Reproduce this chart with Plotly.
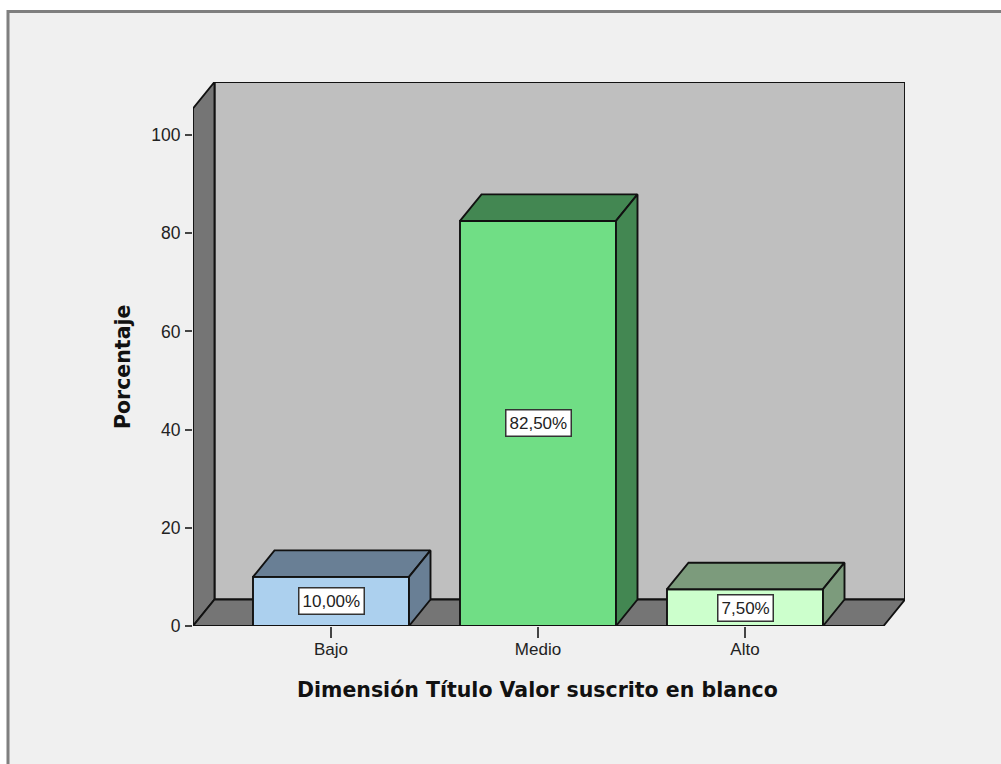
import plotly.graph_objects as go

categories = ["Bajo", "Medio", "Alto"]
porcentajes = [10.0, 82.5, 7.5]
etiquetas = ["10,00%", "82,50%", "7,50%"]
y_ticks = [0, 20, 40, 60, 80, 100]

front_colors = ["#ACD0EE", "#70DE85", "#CCFFCC"]
dark_colors = ["#697F95", "#438752", "#7C9B7C"]

W, H = 1001, 764
L, R, T, B = 193, 905, 82, 626      # plot rectangle in pixels
UX = 207.0                          # pixels per category
UY = 4.91                           # pixels per percent
X0 = -(331 - L) / UX
X1 = X0 + (R - L) / UX
Y1 = (B - T) / UY
DX = 21.5 / UX                      # depth of the 3D effect, axis units
DY = 26.5 / UY
BAR_W = 156 / UX
LINE = dict(color="#111111", width=1.9)
FONT = "Liberation Sans, Arial, sans-serif"

fig = go.Figure()


def poly(xs, ys, fill, axes=("x", "y")):
    fig.add_trace(go.Scatter(
        x=xs + xs[:1], y=ys + ys[:1], mode="lines", fill="toself",
        fillcolor=fill, line=LINE, cliponaxis=False, hoverinfo="skip",
        showlegend=False, xaxis=axes[0], yaxis=axes[1]))


# Back wall, left wall and floor of the box (base axes)
poly([X0 + DX, X1, X1, X0 + DX], [DY, DY, Y1, Y1], "#BFBFBF")
poly([X0, X0 + DX, X0 + DX, X0], [0, DY, Y1, Y1 - DY], "#757575")
poly([X0, X1 - DX, X1, X0 + DX], [0, 0, DY, DY], "#757575")

# Bars on an overlay subplot that shares the same scale
pos = list(range(len(categories)))
fig.add_trace(go.Bar(
    x=pos, y=porcentajes, width=BAR_W, xaxis="x2", yaxis="y2",
    marker=dict(color=front_colors, line=LINE), cliponaxis=False,
    showlegend=False, hovertemplate="%{y}<extra></extra>"))

for p, v, dark in zip(pos, porcentajes, dark_colors):
    a, b = p - BAR_W / 2, p + BAR_W / 2
    poly([a, b, b + DX, a + DX], [v, v, v + DY, v + DY], dark, ("x2", "y2"))
    poly([b, b + DX, b + DX, b], [0, DY, v + DY, v], dark, ("x2", "y2"))

annotations = [
    dict(x=p, y=v / 2, xref="x2", yref="y2", text=t, showarrow=False,
         xanchor="center", yanchor="middle",
         bgcolor="#FFFFFF", bordercolor="#333333", borderwidth=1.5, borderpad=3,
         font=dict(family=FONT, size=17, color="#222222"))
    for p, v, t in zip(pos, porcentajes, etiquetas)
]
annotations += [
    dict(x=537.5 / W, y=1 - 690 / H, xref="paper", yref="paper",
         xanchor="center", yanchor="middle",
         text="<b>Dimensión Título Valor suscrito en blanco</b>", showarrow=False,
         font=dict(family="DejaVu Sans, sans-serif", size=20.5, color="#111111")),
    dict(x=123 / W, y=1 - 367 / H, xref="paper", yref="paper", textangle=-90,
         xanchor="center", yanchor="middle",
         text="<b>Porcentaje</b>", showarrow=False,
         font=dict(family="DejaVu Sans, sans-serif", size=20.5, color="#111111")),
]

# Outer frame; its right and bottom edges run off the page
frame = dict(type="rect", xref="paper", yref="paper", layer="below",
             x0=8 / W, x1=(W + 10) / W, y0=-10 / H, y1=1 - 11.5 / H,
             fillcolor="#F0F0F0", line=dict(color="#7F7F7F", width=3))

axis_common = dict(showgrid=False, zeroline=False, showline=False)
fig.update_layout(
    width=W, height=H, autosize=False,
    margin=dict(l=0, r=0, t=0, b=0, pad=0, autoexpand=False),
    paper_bgcolor="#FFFFFF", plot_bgcolor="rgba(0,0,0,0)",
    shapes=[frame], annotations=annotations, showlegend=False,
    xaxis=dict(range=[X0, X1], domain=[L / W, R / W], tickmode="array", tickvals=pos,
               ticktext=categories, ticks="outside", ticklen=11, tickwidth=1.5,
               tickcolor="#444444", ticklabelstandoff=-3,
               tickfont=dict(family=FONT, size=17, color="#222222"),
               **axis_common),
    yaxis=dict(range=[0, Y1], domain=[1 - B / H, 1 - T / H], tickmode="array",
               tickvals=y_ticks, ticks="outside", ticklen=7, tickwidth=1.5,
               tickcolor="#444444", ticklabelstandoff=1,
               tickfont=dict(family=FONT, size=17.5, color="#222222"),
               **axis_common),
    xaxis2=dict(range=[X0, X1], domain=[L / W, R / W], overlaying="x", anchor="y2",
                visible=False),
    yaxis2=dict(range=[0, Y1], domain=[1 - B / H, 1 - T / H], overlaying="y", anchor="x2",
                visible=False),
)

fig.write_html("out.html", post_script="document.body.style.margin='0';",
               config=dict(displayModeBar=False))
